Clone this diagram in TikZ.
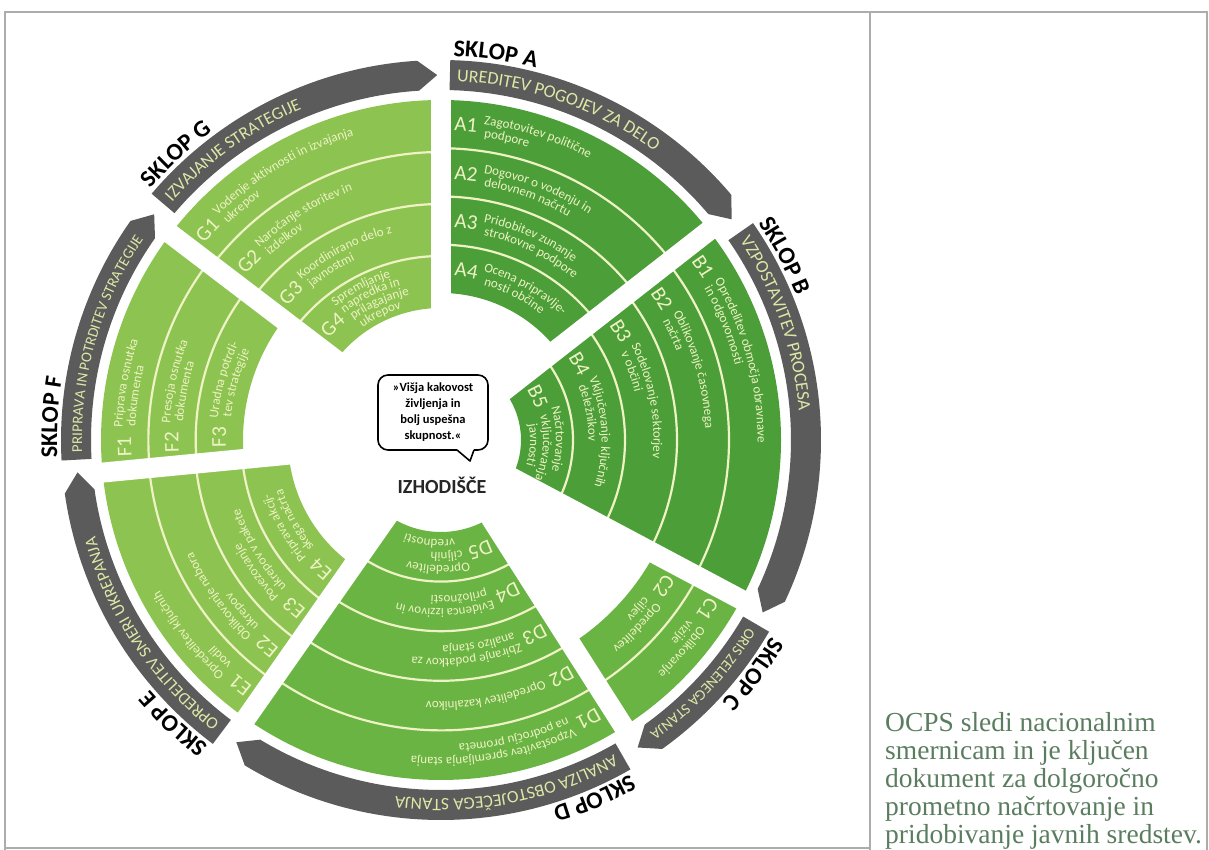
\documentclass[tikz,border=0pt]{standalone}
\usepackage{fontspec}
\setmainfont{Liberation Serif}
\newfontfamily\carlito{Carlito}
\usetikzlibrary{calc,decorations.text}

\definecolor{temna}{HTML}{4C9F38}
\definecolor{srednja}{HTML}{6AB443}
\definecolor{svetla}{HTML}{8DC451}
\definecolor{krem}{HTML}{EEF2C4}
\definecolor{siva}{HTML}{5B5B5B}
\definecolor{trakpis}{HTML}{DCE8A6}
\definecolor{zelenpis}{HTML}{5A7D5F}

\tikzset{
    okvir/.style={draw=gray!65, line width=1.1pt},
    razmik/.style={white, line width=20pt},
    delilnik/.style={krem, line width=2.2pt},
    mehurcek/.style={line width=1.6pt, rounded corners=10pt},
    opis/.style={font=\fontsize{27.5}{28}\selectfont, text=zelenpis, inner sep=0pt},
}

% text on a clockwise arc: start, end, radius, indent, colour, text
\newcommand\lok[6]{%
    \path[decorate,decoration={text along path,text color=#5,
        text align={left indent=#4},text={#6}}]
        (#1:#3) arc[start angle=#1,end angle=#2,radius=#3];}

% sector: start, end, inner radius, rings, colour
\newcommand\sektor[5]{%
    \def\pzac{#1}\def\pkon{#2}
    \pgfmathsetmacro\psir{(340-#3)/#4}
    \pgfmathtruncatemacro\pn{#4-1}
    \fill[#5] (#1:340) arc[start angle=#1,end angle=#2,radius=340]
        -- (#2:#3) arc[start angle=#2,end angle=#1,radius=#3] -- cycle;
    \foreach \k in {1,...,\pn}{
        \pgfmathsetmacro\prr{340-\k*\psir}
        \draw[delilnik] (#1:\prr) arc[start angle=#1,end angle=#2,radius=\prr];}}

% item in a ring: ring, label, lines, text
\newcommand\postavka[4]{{%
    \pgfmathsetmacro\prs{340-(#1-0.5)*\psir}
    \pgfmathsetmacro\prl{\prs-6.5}
    {\carlito\fontsize{21}{21}\selectfont\lok{\pzac}{\pkon}{\prl}{13pt}{krem}{#2}}
    \pgfmathsetmacro\pdv{min(13,(\psir-8)/#3)}
    \pgfmathsetmacro\prz{\prs+(#3-1)*\pdv/2-4}
    \carlito\fontsize{13}{13}\selectfont
    \foreach \v [count=\i from 0] in {#4}{%
        \pgfmathsetmacro\prv{\prz-\i*\pdv}
        \edef\tmp{\noexpand\lok{\pzac}{\pkon}{\prv}{43pt}{krem}{\v}}\tmp}}}

% band: start, tip, font size, text, label
\newcommand\trak[5]{%
    \fill[siva] (#1:350) -- (#1:380) arc[start angle=#1,end angle={#2+3},radius=380]
        -- (#2:365) -- ({#2+3}:350) arc[start angle={#2+3},end angle=#1,radius=350] -- cycle;
    {\carlito\fontsize{#3}{#3}\selectfont\lok{#1}{#2}{359}{7pt}{trakpis}{#4}}
    {\carlito\bfseries\fontsize{24}{24}\selectfont\lok{#1}{#2}{384}{3pt}{black}{#5}}}

\begin{document}
\begin{tikzpicture}[x=1pt,y=1pt]
\useasboundingbox (0,0) rectangle (1209,850);
\begin{scope}[shift={(441,410)}]
    % sklop A
    \sektor{90}{38}{147}{4}{temna}
    \postavka{1}{A1}{2}{Zagotovitev politične,podpore}
    \postavka{2}{A2}{2}{Dogovor o vodenju in,delovnem načrtu}
    \postavka{3}{A3}{2}{Pridobitev zunanje,strokovne podpore}
    \postavka{4}{A4}{2}{Ocena pripravlje-,nosti občine}
    % sklop B
    \sektor{38}{-28}{80}{5}{temna}
    \postavka{1}{B1}{2}{Opredelitev območja obravnave,in odgovornosti}
    \postavka{2}{B2}{2}{Oblikovanje časovnega,načrta}
    \postavka{3}{B3}{2}{Sodelovanje sektorjev,v občini}
    \postavka{4}{B4}{2}{Vključevanje ključnih,deležnikov}
    \postavka{5}{B5}{3}{Načrtovanje,vključevanja,javnosti}
    % sklop C
    \sektor{-28}{-57.5}{242}{2}{srednja}
    \postavka{1}{C1}{2}{Oblikovanje,vizije}
    \postavka{2}{C2}{2}{Opredelitev,ciljev}
    % sklop D
    \sektor{-57.5}{-125}{92}{5}{srednja}
    \postavka{1}{D1}{2}{Vzpostavitev spremljanja stanja,na področju prometa}
    \postavka{2}{D2}{1}{Opredelitev kazalnikov}
    \postavka{3}{D3}{2}{Zbiranje podatkov za,analizo stanja}
    \postavka{4}{D4}{2}{Evidenca izzivov in,priložnosti}
    \postavka{5}{D5}{3}{Opredelitev,ciljnih,vrednosti}
    % sklop E
    \sektor{-125}{-174.5}{153}{4}{svetla}
    \postavka{1}{E1}{2}{Opredelitev ključnih,vodil}
    \postavka{2}{E2}{2}{Oblikovanje nabora,ukrepov}
    \postavka{3}{E3}{2}{Povezovanje,ukrepov v pakete}
    \postavka{4}{E4}{2}{Priprava akcij-,skega načrta}
    % sklop F
    \sektor{185.5}{142.7}{198}{3}{svetla}
    \postavka{1}{F1}{2}{Priprava osnutka,dokumenta}
    \postavka{2}{F2}{2}{Presoja osnutka,dokumenta}
    \postavka{3}{F3}{2}{Uradna potrdi-,tev strategije}
    % sklop G
    \sektor{142.7}{90}{132}{4}{svetla}
    \postavka{1}{G1}{2}{Vodenje aktivnosti in izvajanja,ukrepov}
    \postavka{2}{G2}{2}{Naročanje storitev in,izdelkov}
    \postavka{3}{G3}{2}{Koordinirano delo z,javnostmi}
    \postavka{4}{G4}{4}{Spremljanje,napredka in,prilagajanje,ukrepov}
    % gaps between the sectors
    \foreach \a in {90,38,-28,-57.5,-125,-174.5,142.7}
        \draw[razmik] (0,0) -- (\a:344);
    % outer arrows
    \trak{88.6}{37.2}{18}{UREDITEV POGOJEV ZA DELO}{SKLOP A}
    \trak{34.8}{-28.2}{18}{VZPOSTAVITEV PROCESA}{SKLOP B}
    \trak{-30.3}{-57.4}{15}{ORIS ZELENEGA STANJA}{SKLOP C}
    \trak{-60.1}{-124.1}{17.5}{ANALIZA OBSTOJEČEGA STANJA}{SKLOP D}
    \trak{-126.9}{-174.9}{17}{OPREDELITEV SMERI UKREPANJA}{SKLOP E}
    \trak{183.1}{141.8}{15}{PRIPRAVA IN POTRDITEV STRATEGIJE}{SKLOP F}
    \trak{139.6}{90.6}{17.5}{IZVAJANJE STRATEGIJE}{SKLOP G}
\end{scope}

% centre
\draw[mehurcek] (457,400) -- (378,400) -- (378,475) -- (488,475) -- (488,400) -- (474,400);
\draw[line width=1.6pt, line join=round] (457,400) -- (470,389) -- (474,400);
\node[font=\carlito\bfseries\fontsize{12.5}{16}\selectfont, align=center] (misel) at (433,437.5)
    {»Višja kakovost\\življenja in\\bolj uspešna\\skupnost.«};
\node[font=\carlito\bfseries\fontsize{20}{20}\selectfont, text=black!85] (izhodisce) at (442,365) {IZHODIŠČE};

% table frame
\draw[okvir] (5,0) -- (5,838) -- (1207,838) -- (1207,0);
\draw[okvir] (870,0) -- (870,838);
\draw[okvir] (5,2) -- (870,2);

% right column
\foreach \vrstica [count=\i] in {OCPS sledi nacionalnim,smernicam in je ključen,
    dokument za dolgoročno,prometno načrtovanje in,pridobivanje javnih sredstev.}
    \node[opis, anchor=base west] (opis-\i) at (885,146-28*\i) {\vrstica};
\end{tikzpicture}
\end{document}
